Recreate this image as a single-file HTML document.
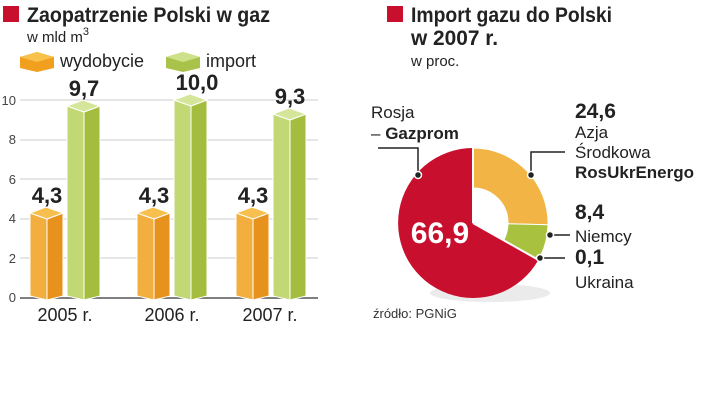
<!DOCTYPE html><html><head><meta charset="utf-8"><style>body{margin:0;background:#fff}svg{display:block}text{font-family:"Liberation Sans",sans-serif}</style></head><body>
<svg width="720" height="402" viewBox="0 0 720 402">
<rect x="3" y="6" width="16" height="16" fill="#c8102e"/>
<text x="27" y="22" font-size="21" font-weight="bold" fill="#222" textLength="243" lengthAdjust="spacingAndGlyphs">Zaopatrzenie Polski w gaz</text>
<text x="27" y="42" font-size="15" fill="#222">w mld m<tspan dy="-7" font-size="11">3</tspan></text>
<polygon points="20,57 37,52 54,57 54,68 37,72 20,68" fill="#f0a01e"/><polygon points="20,57 37,52 54,57 37,62" fill="#f7c14a"/>
<text x="60" y="67" font-size="18" fill="#222">wydobycie</text>
<polygon points="166,57 183,52 200,57 200,68 183,72 166,68" fill="#a9c24a"/><polygon points="166,57 183,52 200,57 183,62" fill="#cfe08a"/>
<text x="206" y="67" font-size="18" fill="#222">import</text>
<g stroke="#ccc" stroke-width="1">
<line x1="20" y1="100" x2="318" y2="100"/><line x1="20" y1="140" x2="318" y2="140"/><line x1="20" y1="179" x2="318" y2="179"/><line x1="20" y1="219" x2="318" y2="219"/><line x1="20" y1="258" x2="318" y2="258"/></g>
<line x1="20" y1="298" x2="318" y2="298" stroke="#555" stroke-width="1.5"/>
<g font-size="13" fill="#444" text-anchor="end"><text x="16" y="105">10</text><text x="16" y="144">8</text><text x="16" y="184">6</text><text x="16" y="223">4</text><text x="16" y="263">2</text><text x="16" y="302">0</text></g>
<g stroke="#fff" stroke-width="1">
<polygon points="30,213 47,219 47,300 30,296" fill="#f2ae3e"/><polygon points="47,219 63,213 63,296 47,300" fill="#e8921e"/><polygon points="30,213 46,207 63,213 47,219" fill="#f7c04e"/>
<polygon points="67,106 84,112 84,300 67,296" fill="#c2d874"/><polygon points="84,112 100,106 100,296 84,300" fill="#a5bd3e"/><polygon points="67,106 83,100 100,106 84,112" fill="#d5e69a"/>
<polygon points="137,213 154,219 154,300 137,296" fill="#f2ae3e"/><polygon points="154,219 170,213 170,296 154,300" fill="#e8921e"/><polygon points="137,213 153,207 170,213 154,219" fill="#f7c04e"/>
<polygon points="174,100 191,106 191,300 174,296" fill="#c2d874"/><polygon points="191,106 207,100 207,296 191,300" fill="#a5bd3e"/><polygon points="174,100 190,94 207,100 191,106" fill="#d5e69a"/>
<polygon points="236,213 253,219 253,300 236,296" fill="#f2ae3e"/><polygon points="253,219 269,213 269,296 253,300" fill="#e8921e"/><polygon points="236,213 252,207 269,213 253,219" fill="#f7c04e"/>
<polygon points="273,114 290,120 290,300 273,296" fill="#c2d874"/><polygon points="290,120 306,114 306,296 290,300" fill="#a5bd3e"/><polygon points="273,114 289,108 306,114 290,120" fill="#d5e69a"/>
</g>
<g font-size="22" font-weight="bold" fill="#222" text-anchor="middle">
<text x="47" y="203">4,3</text><text x="84" y="96">9,7</text>
<text x="154" y="203">4,3</text><text x="197" y="90">10,0</text>
<text x="253" y="203">4,3</text><text x="290" y="104">9,3</text></g>
<g font-size="18" fill="#222" text-anchor="middle"><text x="65" y="321">2005 r.</text><text x="172" y="321">2006 r.</text><text x="270" y="321">2007 r.</text></g>

<rect x="387" y="6" width="16" height="16" fill="#c8102e"/>
<text x="411" y="22" font-size="21" font-weight="bold" fill="#222" textLength="201" lengthAdjust="spacingAndGlyphs">Import gazu do Polski</text>
<text x="411" y="45" font-size="21" font-weight="bold" fill="#222" textLength="87" lengthAdjust="spacingAndGlyphs">w 2007 r.</text>
<text x="411" y="66" font-size="15" fill="#222">w proc.</text>
<ellipse cx="490" cy="293" rx="60" ry="9" fill="#ddd" opacity="0.6"/>
<path d="M473,223 L538.4,259.9 A75,75 0 1 1 473,148 Z" fill="#c8102e"/>
<path d="M473,148 A75,75 0 0 1 548,224.8 L508,223.8 A35,35 0 0 0 473,188 Z" fill="#f2b445" stroke="#fff" stroke-width="1"/>
<path d="M548,224.8 A75,75 0 0 1 538.7,259.7 L503.7,240.2 A35,35 0 0 0 508,223.8 Z" fill="#a8c240" stroke="#fff" stroke-width="1"/>
<line x1="473" y1="148" x2="473" y2="223" stroke="#fff" stroke-width="2"/>
<line x1="473" y1="223" x2="538.4" y2="259.9" stroke="#fff" stroke-width="2"/>
<text x="440" y="243" font-size="30" font-weight="bold" fill="#fff" text-anchor="middle">66,9</text>
<g stroke="#222" stroke-width="1.5" fill="none"><polyline points="418,175 418,148 378,148"/><polyline points="531,175 531,152 565,152"/><line x1="550" y1="235" x2="570" y2="235"/><line x1="540" y1="258" x2="565" y2="258"/></g>
<g fill="#222" stroke="#fff" stroke-width="1.5"><circle cx="418" cy="175" r="3.5"/><circle cx="531" cy="175" r="3.5"/><circle cx="550" cy="235" r="3.5"/><circle cx="540" cy="258" r="3.5"/></g>
<text x="371" y="118" font-size="17" fill="#222">Rosja</text>
<text x="371" y="139" font-size="17" fill="#222">– <tspan font-weight="bold">Gazprom</tspan></text>
<text x="575" y="118" font-size="21" font-weight="bold" fill="#222">24,6</text>
<text x="575" y="138" font-size="17" fill="#222">Azja</text>
<text x="575" y="158" font-size="17" fill="#222">Środkowa</text>
<text x="575" y="178" font-size="17" font-weight="bold" fill="#222">RosUkrEnergo</text>
<text x="575" y="219" font-size="21" font-weight="bold" fill="#222">8,4</text>
<text x="575" y="242" font-size="17" fill="#222">Niemcy</text>
<text x="575" y="264" font-size="21" font-weight="bold" fill="#222">0,1</text>
<text x="575" y="288" font-size="17" fill="#222">Ukraina</text>
<text x="373" y="318" font-size="13" fill="#333">źródło: PGNiG</text>
</svg></body></html>
